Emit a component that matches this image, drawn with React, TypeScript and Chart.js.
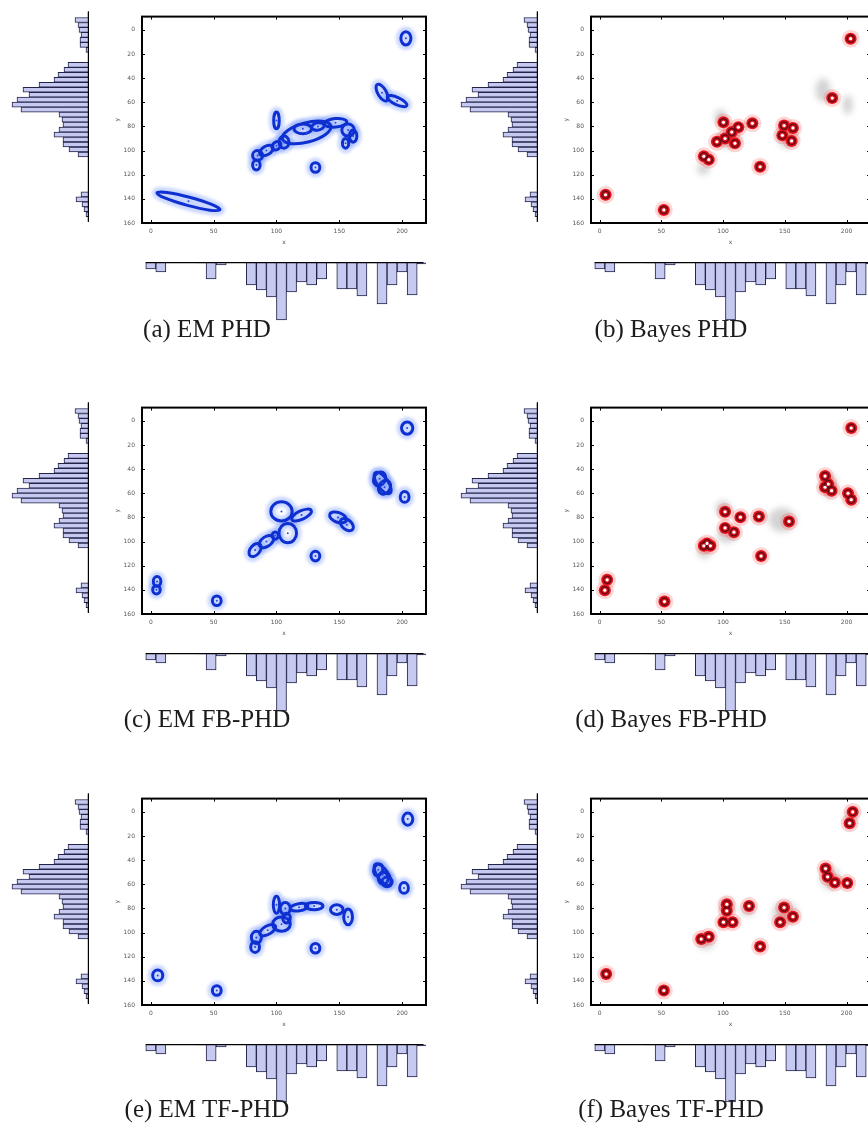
import React, { useEffect, useRef } from "react";
import { Chart, registerables } from "chart.js";

Chart.register(...registerables);

// ---------- axes ----------
const X_MIN = -7;
const X_MAX = 219;
const Y_MIN = -11;
const Y_MAX = 160;
const X_TICKS = [0, 50, 100, 150, 200];
const Y_TICKS = [0, 20, 40, 60, 80, 100, 120, 140, 160];

// ---------- marginal histograms (same in every panel) ----------
const Y_HIST_CENTERS = [-7, -3, 1, 5, 9, 13, 17, 21, 25, 29, 33, 37, 41, 45, 49, 53, 57, 61, 65, 69, 73, 77, 81, 85, 89, 93, 97, 101, 105, 109, 113, 117, 121, 125, 129, 133, 137, 141, 145, 149, 153, 157];
const Y_HIST_COUNTS = [1, 14, 11, 10, 8, 9, 9, 3, 0, 0, 21, 25, 31, 35, 50, 66, 60, 72, 77, 68, 30, 27, 26, 30, 35, 26, 26, 20, 11, 0, 0, 0, 0, 0, 0, 0, 8, 13, 7, 5, 3, 1];
const X_HIST_CENTERS = [0, 8, 16, 24, 32, 40, 48, 56, 64, 72, 80, 88, 96, 104, 112, 120, 128, 136, 144, 152, 160, 168, 176, 184, 192, 200, 208, 216];
const X_HIST_COUNTS = [7, 10, 0, 0.5, 0.5, 1, 17, 3, 0, 0.5, 23, 28, 35, 58, 30, 20, 23, 17, 1, 27, 27, 34, 1, 42, 23, 10, 33, 2];

// ---------- EM panels: Gaussian ellipses [cx, cy, semiA, semiB, angleDeg] ----------
const EM_PHD_ELLIPSES = [
  [30, 142, 26, 3.5, 15], [203, 7, 4, 5.5, 0], [184, 52, 7.5, 3.5, 60], [196, 59, 8.5, 3, 25],
  [100, 75, 2.2, 7, 0], [124, 85, 20, 8, -15], [121, 82, 7, 4, 0], [133, 80, 5, 3, -10],
  [147, 77, 9, 3.5, -5], [157, 83, 5, 5, 0], [161, 88, 3, 5, 0], [155, 94, 2.5, 4, 0],
  [106, 93, 4, 5, 0], [100, 96, 4, 3, -40], [92, 100, 6, 3.5, -30], [85, 104, 4, 4, 0],
  [84, 112, 3, 4, 0], [131, 114, 3.5, 4, 0],
];
const EM_FB_ELLIPSES = [
  [204, 6, 4.5, 5, 0], [182, 48, 4.5, 6, 30], [186, 55, 4.5, 6, 30], [184.5, 51.5, 10, 4.5, 55],
  [202, 63, 3.5, 4.5, 0], [104, 75, 8.5, 8, 0], [120, 78, 8.5, 3.5, -25], [109, 93, 7, 8, 0],
  [99, 95, 2.5, 3, 0], [92, 100, 6.5, 4, -35], [83, 107, 6, 4, -50], [131, 112, 3.5, 4, 0],
  [149, 80, 7, 4, 20], [156, 86, 6, 4, 40], [5, 133, 3, 4, 0], [4.5, 140, 3, 3.5, 0],
  [52.5, 149, 3.5, 4, 0],
];
const EM_TF_ELLIPSES = [
  [204.5, 6, 4, 5, 0], [181, 48, 3.5, 5, 20], [185, 55, 4, 5, 0], [184.5, 52, 10, 4.5, 55],
  [188, 58, 4, 4, 0], [201.5, 63, 3.5, 4.5, 0], [100, 77, 2.5, 7, 0], [107, 80, 4, 5, 0],
  [118, 79, 7, 3, -10], [130, 78, 7, 3, 0], [104, 93, 7, 6, 0], [108, 88, 3, 4, 0],
  [93, 98, 7, 3.5, -30], [84, 104, 4, 5, 0], [83, 112, 3.5, 4.5, 0], [148, 81, 5, 4, 0],
  [157, 87, 3.5, 6.5, 0], [131, 113, 3.5, 4, 0], [5.5, 135.5, 4, 4.5, 0], [52.5, 148, 3.5, 4, 0],
];

// ---------- Bayes panels: estimated targets [x, y] ----------
const BAYES_PHD_POINTS = [
  [203.3, 7.3], [188.4, 56.5], [100.3, 76.6], [112.3, 80.6], [107, 84.7], [123.7, 77.4],
  [95, 92.7], [101.6, 90], [109.6, 94], [84.4, 104.8], [88.4, 107.5], [130, 113.4],
  [149.4, 79.3], [156.6, 81.2], [148, 87.4], [155.5, 92], [4.8, 136.6], [52, 149.2],
];
const BAYES_FB_POINTS = [
  [203.8, 5.9], [182.6, 45.7], [185.2, 52.4], [187.9, 57.8], [182.6, 55], [201.2, 60],
  [203.8, 65.3], [101.6, 75.3], [114, 79.8], [129, 79.3], [101.6, 88.7], [108.8, 92.2],
  [153.4, 83.3], [84.4, 103.5], [89.7, 103.5], [87, 101.5], [130.8, 112], [6.1, 131.7],
  [4.2, 140.3], [52.5, 149.7],
];
const BAYES_TF_POINTS = [
  [205, 0], [202.5, 9.4], [183, 47], [184.7, 53.8], [190.5, 58.6], [200.6, 59],
  [103, 76.6], [103, 82], [100.3, 91.4], [107.7, 91.4], [121, 78], [149.4, 79.3],
  [156.6, 86.8], [146.2, 91.4], [82.3, 105.4], [88.4, 103.5], [130, 111.6], [5.3, 134.4],
  [52, 148],
];

// ---------- Bayes panels: grey particle clouds [cx, cy, rx, ry] ----------
const BAYES_PHD_CLOUDS = [[181, 50, 6, 10], [201, 62, 4, 8], [98, 72, 5, 6], [84, 115, 5, 5], [152, 88, 8, 10], [105, 90, 10, 8]];
const BAYES_FB_CLOUDS = [[100, 72, 6, 6], [148, 82, 11, 10], [85, 108, 6, 6], [130, 80, 5, 4], [186, 54, 7, 10], [103, 95, 8, 6]];
const BAYES_TF_CLOUDS = [[103, 78, 6, 6], [150, 84, 10, 10], [86, 108, 7, 6], [187, 55, 8, 9], [120, 82, 6, 4], [203, 5, 4, 8]];

const CAPTIONS = [
  "(a) EM PHD", "(b) Bayes PHD",
  "(c) EM FB-PHD", "(d) Bayes FB-PHD",
  "(e) EM TF-PHD", "(f) Bayes TF-PHD",
];

// ---------- layout ----------
const PLOT = { left: 142, top: 10, w: 284, h: 213 };
const COL_DX = [0, 449];
const ROW_DY = [0, 391, 782];
const CAPTION_CX = [207, 671];
const CAPTION_CY = [329, 719, 1109];
const HIST_FILL = "#c6c9f0";
const HIST_EDGE = "#23234a";

function makeScatterConfig(kind: "em" | "bayes", ellipses: number[][], points: number[][], clouds: number[][]) {
  const decorPlugin = {
    id: "decor",
    beforeDatasetsDraw(chart: any) {
      const { ctx, chartArea: a, scales } = chart;
      const sx = Math.abs(scales.x.getPixelForValue(1) - scales.x.getPixelForValue(0));
      const sy = Math.abs(scales.y.getPixelForValue(1) - scales.y.getPixelForValue(0));
      ctx.save();
      ctx.beginPath();
      ctx.rect(a.left, a.top, a.right - a.left, a.bottom - a.top);
      ctx.clip();
      if (kind === "bayes") {
        ctx.filter = "blur(3px)";
        clouds.forEach((c) => {
          ctx.beginPath();
          ctx.ellipse(scales.x.getPixelForValue(c[0]), scales.y.getPixelForValue(c[1]), c[2] * sx, c[3] * sy, 0, 0, Math.PI * 2);
          ctx.fillStyle = "rgba(140,140,140,0.38)";
          ctx.fill();
        });
        ctx.filter = "none";
      } else {
        ctx.filter = "blur(1.5px)";
        ellipses.forEach((e) => {
          ctx.beginPath();
          ctx.ellipse(scales.x.getPixelForValue(e[0]), scales.y.getPixelForValue(e[1]), e[2] * sx, e[3] * sy, (e[4] * Math.PI) / 180, 0, Math.PI * 2);
          ctx.lineWidth = 10;
          ctx.strokeStyle = "rgba(90,130,255,0.32)";
          ctx.stroke();
        });
        ctx.filter = "none";
        ellipses.forEach((e) => {
          ctx.beginPath();
          ctx.ellipse(scales.x.getPixelForValue(e[0]), scales.y.getPixelForValue(e[1]), e[2] * sx, e[3] * sy, (e[4] * Math.PI) / 180, 0, Math.PI * 2);
          ctx.lineWidth = 3;
          ctx.strokeStyle = "#0f30d0";
          ctx.stroke();
        });
      }
      ctx.restore();
    },
  };
  const framePlugin = {
    id: "frame",
    afterDraw(chart: any) {
      const { ctx, chartArea: a, scales } = chart;
      ctx.save();
      ctx.strokeStyle = "#000";
      ctx.lineWidth = 1;
      X_TICKS.forEach((v) => {
        const p = Math.round(scales.x.getPixelForValue(v)) + 0.5;
        ctx.beginPath();
        ctx.moveTo(p, a.bottom); ctx.lineTo(p, a.bottom - 3);
        ctx.moveTo(p, a.top); ctx.lineTo(p, a.top + 3);
        ctx.stroke();
      });
      Y_TICKS.forEach((v) => {
        const p = Math.round(scales.y.getPixelForValue(v)) + 0.5;
        ctx.beginPath();
        ctx.moveTo(a.left, p); ctx.lineTo(a.left + 3, p);
        ctx.moveTo(a.right, p); ctx.lineTo(a.right - 3, p);
        ctx.stroke();
      });
      ctx.lineWidth = 2;
      ctx.strokeRect(a.left, a.top, a.right - a.left, a.bottom - a.top);
      ctx.restore();
    },
  };
  const datasets: any[] = [];
  if (kind === "em") {
    datasets.push({
      data: ellipses.map((e) => ({ x: e[0], y: e[1] })),
      pointRadius: 1,
      backgroundColor: "#2a48e0",
      borderWidth: 0,
    });
  } else {
    const pts = points.map((p) => ({ x: p[0], y: p[1] }));
    // listed top-most first (Chart.js draws the first dataset last)
    datasets.push({ data: pts, pointRadius: 1.6, backgroundColor: "#ffffff", borderWidth: 0 });
    datasets.push({ data: pts, pointRadius: 3.6, backgroundColor: "rgba(0,0,0,0)", borderColor: "#6a0a14", borderWidth: 1.6 });
    datasets.push({ data: pts, pointRadius: 6, backgroundColor: "#e3121c", borderColor: "#e3121c", borderWidth: 0 });
    datasets.push({ data: pts, pointRadius: 9, backgroundColor: "rgba(255,70,70,0.22)", borderWidth: 0 });
  }
  const tickFont = { size: 6, family: "DejaVu Sans" };
  return {
    type: "scatter",
    data: { datasets },
    options: {
      animation: false,
      responsive: false,
      devicePixelRatio: 1,
      events: [],
      layout: { padding: { top: 4, right: 4, left: 0, bottom: 0 } },
      plugins: { legend: { display: false }, tooltip: { enabled: false } },
      scales: {
        x: {
          type: "linear", min: X_MIN, max: X_MAX,
          grid: { display: false, drawTicks: false }, border: { display: false },
          afterBuildTicks: (s: any) => { s.ticks = X_TICKS.map((v) => ({ value: v })); },
          ticks: { font: tickFont, color: "#555", padding: 5, maxRotation: 0, autoSkip: false },
          title: { display: true, text: "x", font: tickFont, color: "#555", padding: { top: 0, bottom: 1 } },
          afterFit: (s: any) => { s.height = 24; },
        },
        y: {
          type: "linear", min: Y_MIN, max: Y_MAX, reverse: true,
          grid: { display: false, drawTicks: false }, border: { display: false },
          afterBuildTicks: (s: any) => { s.ticks = Y_TICKS.map((v) => ({ value: v })); },
          ticks: { font: tickFont, color: "#555", padding: 7, autoSkip: false },
          title: { display: true, text: "y", font: tickFont, color: "#555", padding: { top: 2, bottom: 0 } },
          afterFit: (s: any) => { s.width = 30; },
        },
      },
    },
    plugins: [decorPlugin, framePlugin],
  };
}

function makeLeftHistConfig() {
  const baseline = {
    id: "baseline",
    afterDatasetsDraw(chart: any) {
      const { ctx, chartArea: a, scales } = chart;
      ctx.save();
      ctx.strokeStyle = "#000";
      ctx.lineWidth = 1.2;
      ctx.beginPath();
      ctx.moveTo(a.right - 0.6, scales.y.getPixelForValue(-10));
      ctx.lineTo(a.right - 0.6, scales.y.getPixelForValue(159));
      ctx.stroke();
      ctx.restore();
    },
  };
  return {
    type: "bar",
    data: {
      datasets: [{
        data: Y_HIST_CENTERS.map((c, i) => ({ x: Y_HIST_COUNTS[i], y: c })),
        backgroundColor: HIST_FILL, borderColor: HIST_EDGE, borderWidth: 1,
        categoryPercentage: 1, barPercentage: 1,
      }],
    },
    options: {
      animation: false, responsive: false, devicePixelRatio: 1, events: [], indexAxis: "y",
      layout: { padding: 0 },
      plugins: { legend: { display: false }, tooltip: { enabled: false } },
      scales: {
        y: { type: "linear", min: Y_MIN, max: Y_MAX, reverse: true, offset: false, display: false },
        x: { type: "linear", min: 0, max: 81, reverse: true, display: false },
      },
    },
    plugins: [baseline],
  };
}

function makeBottomHistConfig() {
  const baseline = {
    id: "baseline",
    afterDatasetsDraw(chart: any) {
      const { ctx, chartArea: a, scales } = chart;
      ctx.save();
      ctx.strokeStyle = "#000";
      ctx.lineWidth = 1.2;
      ctx.beginPath();
      ctx.moveTo(scales.x.getPixelForValue(-4), a.top + 0.6);
      ctx.lineTo(scales.x.getPixelForValue(217), a.top + 0.6);
      ctx.stroke();
      ctx.restore();
    },
  };
  return {
    type: "bar",
    data: {
      datasets: [{
        data: X_HIST_CENTERS.map((c, i) => ({ x: c, y: X_HIST_COUNTS[i] })),
        backgroundColor: HIST_FILL, borderColor: HIST_EDGE, borderWidth: 1,
        categoryPercentage: 1, barPercentage: 1,
      }],
    },
    options: {
      animation: false, responsive: false, devicePixelRatio: 1, events: [],
      layout: { padding: 0 },
      plugins: { legend: { display: false }, tooltip: { enabled: false } },
      scales: {
        x: { type: "linear", min: X_MIN, max: X_MAX, offset: false, display: false },
        y: { type: "linear", min: 0, max: 61, reverse: true, display: false },
      },
    },
    plugins: [baseline],
  };
}

function ChartBox({ left, top, width, height, make }: { left: number; top: number; width: number; height: number; make: () => any }) {
  const ref = useRef<HTMLCanvasElement | null>(null);
  useEffect(() => {
    const chart = new Chart(ref.current as HTMLCanvasElement, make());
    return () => chart.destroy();
  }, []);
  return (
    <canvas
      ref={ref}
      width={width}
      height={height}
      style={{ position: "absolute", left, top, width, height }}
    />
  );
}

function Panel({ col, row, kind, ellipses, points, clouds, caption }: any) {
  const dx = COL_DX[col];
  const dy = ROW_DY[row];
  const pl = PLOT.left + dx;
  const pt = PLOT.top + dy;
  return (
    <>
      <ChartBox
        left={pl - 30} top={pt - 4} width={PLOT.w + 34} height={PLOT.h + 28}
        make={() => makeScatterConfig(kind, ellipses, points, clouds)}
      />
      <ChartBox left={8 + dx} top={pt} width={81} height={PLOT.h} make={makeLeftHistConfig} />
      <ChartBox left={pl} top={262 + dy} width={PLOT.w} height={61} make={makeBottomHistConfig} />
      <div
        style={{
          position: "absolute", left: CAPTION_CX[col] - 160, width: 320, top: CAPTION_CY[row] - 15,
          textAlign: "center", fontFamily: "'Liberation Serif', serif", fontSize: 25, lineHeight: "30px",
          color: "#1c1c1c", whiteSpace: "nowrap",
        }}
      >
        {caption}
      </div>
    </>
  );
}

export default function App() {
  return (
    <div style={{ position: "fixed", left: 0, top: 0, width: 868, height: 1144, overflow: "hidden", background: "#fff" }}>
      <Panel col={0} row={0} kind="em" ellipses={EM_PHD_ELLIPSES} points={[]} clouds={[]} caption={CAPTIONS[0]} />
      <Panel col={1} row={0} kind="bayes" ellipses={[]} points={BAYES_PHD_POINTS} clouds={BAYES_PHD_CLOUDS} caption={CAPTIONS[1]} />
      <Panel col={0} row={1} kind="em" ellipses={EM_FB_ELLIPSES} points={[]} clouds={[]} caption={CAPTIONS[2]} />
      <Panel col={1} row={1} kind="bayes" ellipses={[]} points={BAYES_FB_POINTS} clouds={BAYES_FB_CLOUDS} caption={CAPTIONS[3]} />
      <Panel col={0} row={2} kind="em" ellipses={EM_TF_ELLIPSES} points={[]} clouds={[]} caption={CAPTIONS[4]} />
      <Panel col={1} row={2} kind="bayes" ellipses={[]} points={BAYES_TF_POINTS} clouds={BAYES_TF_CLOUDS} caption={CAPTIONS[5]} />
    </div>
  );
}
